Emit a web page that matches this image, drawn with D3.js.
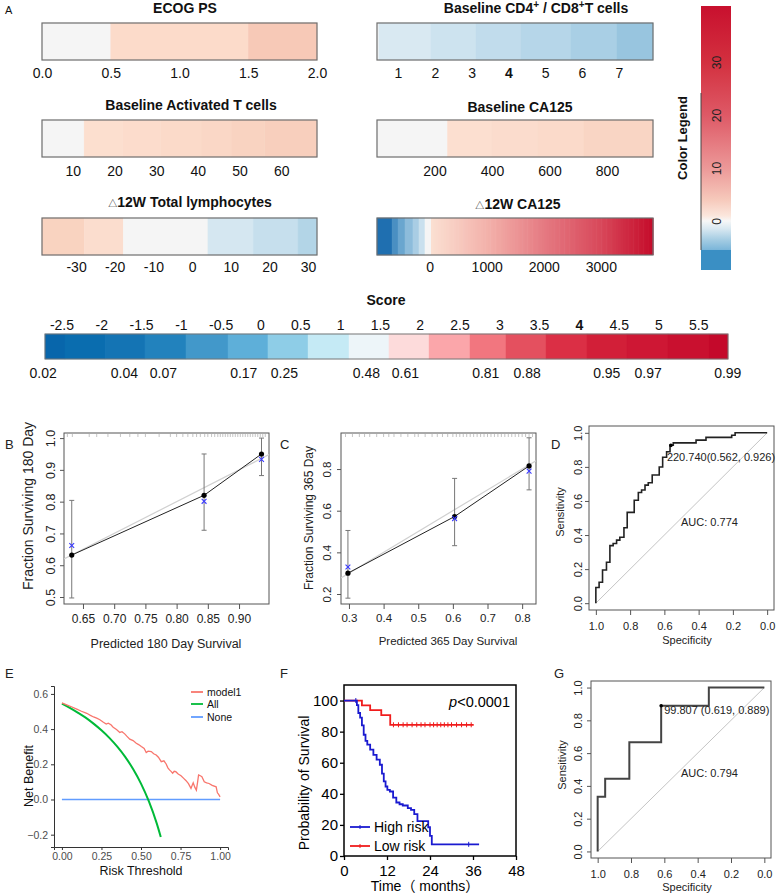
<!DOCTYPE html>
<html><head><meta charset="utf-8">
<script src="https://cdn.jsdelivr.net/npm/d3@7"></script>
<style>body{margin:0;background:#fff}</style>
</head><body><svg id="c" width="777" height="895"></svg>
<script>
// ================= DATA =================
// Panel A heat bars
const ecogTicks=[0,0.5,1,1.5,2];
const ecogBreaks=[0,0.5,1.5,2];
const ecogColors=["#f5f5f5","#fcdbca","#f7c9b7"];
const actTicks=[10,20,30,40,50,60];
const actBreaks=[2.6,12.7,22,31,41,48,56,68.6];
const actColors=["#f5f5f5","#fcdfcf","#fcdccc","#fbdac9","#fad7c6","#f9d3c1","#f8cfbd"];
const lymTicks=[-30,-20,-10,0,10,20,30];
const lymBreaks=[-38.8,-27.9,-17.8,4.1,15.8,27.4,32.3];
const lymColors=["#f9d3c0","#fbddce","#f5f5f5","#d5e7f1","#c6dfed","#b3d5e7"];
const cd4Ticks=[1,2,3,4,5,6,7];
const cd4Breaks=[0.43,0.48,1.89,3.12,4.34,5.69,6.94,7.93];
const cd4Colors=["#f7f7f7","#d9e9f2","#cde3ef","#c1dcec","#b6d6e9","#a9cfe5","#98c5df"];
const caTicks=[200,400,600,800];
const caBreaks=[0,245,400,560,720,960];
const caColors=["#f5f5f5","#fcdfd0","#fbdccd","#fbdaca","#f9d5c4"];
const dcaTicks=[0,1000,2000,3000];
const dcaBlueBreaks=[-921,-658,-553,-431,-291,-186,-81,25];
const dcaBlueColors=["#1f6fb0","#4a8fc2","#6aa6cf","#8dbcdb","#a9cde4","#c9e0ee","#f5f5f5"];
const dcaRedStops=[25,1000,2000,3000,3913];
const dcaRedColors=["#fbe0d2","#f3b2ab","#e57a82","#d8485a","#c50b2a"];
const legendTicks=[0,10,20,30];
const legendStops=[40.6,30,20,10,4,1,0,-1.5,-3.5,-5.5];
const legendColors=["#c8102e","#d3303f","#de5966","#ec9898","#f6c9bb","#fbe6dc","#f7f7f7","#d8e8f1","#a6cde3","#7ab5d9"];
// Score bar
const scoreTicks=[-2.5,-2,-1.5,-1,-0.5,0,0.5,1,1.5,2,2.5,3,3.5,4,4.5,5,5.5];
const scoreBreaks=[-2.707,-2.456,-1.953,-1.451,-0.936,-0.408,0.094,0.597,1.112,1.614,2.117,2.632,3.084,3.587,4.102,4.604,5.119,5.634,5.873];
const scoreColors=["#0866ab","#0a6daf","#1474b4","#2282bd","#4298ca","#5eafd9","#8ecde7","#c5eaf5","#edf5f9","#fddbdb","#fba6aa","#f2767f","#e4505f","#db2f45","#d21f38","#ce1734","#c9102f","#c4092b"];
const probLabels=["0.02","0.04","0.07","0.17","0.25","0.48","0.61","0.81","0.88","0.95","0.97","0.99"];
const probPos=[-2.73,-1.71,-1.22,-0.21,0.30,1.33,1.82,2.83,3.35,4.35,4.87,5.87];
// Panel B calibration 180 day
const predB=[0.632,0.844,0.936];
const obsB=[0.632,0.820,0.950];
const kmB=[0.662,0.801,0.933];
const loB=[0.497,0.710,0.882];
const hiB=[0.804,0.950,1.0];
const rugB=[0.625,0.633,0.66,0.672,0.69,0.71,0.725,0.738,0.75,0.772,0.79,0.8,0.81,0.818,0.826,0.832,0.838,0.845,0.85,0.856,0.861,0.866,0.87,0.874,0.878,0.882,0.886,0.89,0.894,0.898,0.902,0.906,0.91,0.914,0.918,0.922,0.926,0.93,0.934,0.938,0.942];
const xTicksB=[0.65,0.70,0.75,0.80,0.85,0.90];
const yTicksB=[0.5,0.6,0.7,0.8,0.9,1.0];
// Panel C calibration 365 day
const predC=[0.297,0.605,0.82];
const obsC=[0.30,0.572,0.815];
const kmC=[0.33,0.562,0.79];
const loC=[0.18,0.432,0.70];
const hiC=[0.505,0.755,0.95];
const rugC=[0.29,0.31,0.33,0.345,0.36,0.38,0.40,0.415,0.43,0.45,0.47,0.49,0.5,0.52,0.54,0.555,0.57,0.585,0.6,0.61,0.62,0.63,0.64,0.65,0.66,0.67,0.68,0.69,0.7,0.71,0.72,0.73,0.74,0.75,0.76,0.77,0.78,0.79,0.8,0.81,0.82,0.83];
const xTicksC=[0.3,0.4,0.5,0.6,0.7,0.8];
const yTicksC=[0.2,0.4,0.6,0.8];
// Panel D ROC
const dSpec=[1,1,0.981,0.961,0.938,0.918,0.899,0.879,0.86,0.836,0.817,0.776,0.752,0.733,0.713,0.694,0.671,0.63,0.61,0.587,0.567,0.548,0.415,0.357,0.207,0.187,0];
const dSens=[0,0.092,0.123,0.195,0.24,0.338,0.35,0.37,0.387,0.443,0.533,0.604,0.65,0.664,0.693,0.707,0.752,0.799,0.857,0.889,0.928,0.941,0.957,0.973,0.986,1,1];
const dCut=[0.562,0.926];
const dCutLabel="220.740(0.562, 0.926)";
const dAuc="AUC: 0.774";
// Panel G ROC
const gSpec=[1,1,0.955,0.81,0.619,0.333,0];
const gSens=[0,0.333,0.444,0.667,0.889,1,1];
const gCut=[0.619,0.889];
const gCutLabel="99.807 (0.619, 0.889)";
const gAuc="AUC: 0.794";
const rocTicks=[0,0.2,0.4,0.6,0.8,1.0];
// Panel E decision curve
const eT=[0,0.03,0.06,0.094,0.12,0.157,0.18,0.2,0.22,0.24,0.26,0.28,0.293,0.31,0.324,0.345,0.366,0.38,0.397,0.41,0.429,0.45,0.47,0.485,0.502,0.52,0.533,0.545,0.565,0.58,0.596,0.61,0.628,0.645,0.659,0.67,0.68,0.69,0.7,0.71,0.72,0.735,0.753,0.77,0.785,0.8,0.816,0.823,0.83,0.84,0.85,0.858,0.864,0.875,0.885,0.9,0.915,0.93,0.95,0.975,0.983,0.99,1.0];
const eModel=[0.549,0.538,0.527,0.514,0.503,0.49,0.478,0.469,0.462,0.453,0.44,0.429,0.434,0.425,0.411,0.398,0.381,0.385,0.373,0.36,0.343,0.335,0.32,0.312,0.301,0.29,0.267,0.275,0.272,0.26,0.253,0.24,0.215,0.22,0.202,0.18,0.168,0.16,0.149,0.16,0.158,0.145,0.135,0.12,0.107,0.09,0.063,0.08,0.095,0.07,0.053,0.1,0.139,0.135,0.13,0.101,0.095,0.091,0.08,0.072,0.038,0.03,0.015];
const eAllT=[0,0.05,0.1,0.15,0.2,0.25,0.3,0.35,0.4,0.45,0.5,0.55,0.6,0.625];
const eAll=[0.545,0.521,0.494,0.465,0.431,0.393,0.35,0.30,0.242,0.173,0.09,-0.011,-0.137,-0.213];
const eNoneT=[0,1];
const eNone=[0,0];
const eSeries=["model1","All","None"];
// Panel F Kaplan-Meier
const highT=[0,3.6,4.0,4.5,5.0,5.5,6.0,6.5,7.3,8.2,9.1,10.0,10.6,11.1,11.6,12.1,12.8,13.7,14.6,15.5,16.4,17.8,18.7,19.6,20.5,23.5,24.0,24.5,37.7];
const highS=[100,97,92,89,84,78,74,71.6,68.4,65,62,58.7,53,48,44.7,42.5,41.5,37.6,34.4,33.3,32.5,30.8,29.7,27,22.4,18.5,13,7.5,7.5];
const lowT=[0,5.0,7.3,10.4,12.9,36.2];
const lowS=[100,96.9,93.8,90.6,84.4,84.4];
const lowCensor=[13.8,15.2,16.5,17.6,19.0,20.3,21.5,22.6,24.0,25.0,26.0,27.0,28.0,29.0,30.0,31.4,32.8,34.2,35.5];
const highCensor=[3.3,34.8];
const kmGroups=["High risk","Low risk"];
const kmXTicks=[0,12,24,36,48];
const kmYTicks=[0,20,40,60,80,100];

// ================= DRAW =================
const FONT="'Liberation Sans', Arial, 'Noto Sans CJK SC', sans-serif";
const svg=d3.select("#c");
svg.append("rect").attr("width",777).attr("height",895).attr("fill","#fff");

function txt(x,y,s,fs,opt){
  opt=opt||{};
  const t=svg.append("text").attr("x",x).attr("y",y).attr("font-family",FONT).attr("font-size",fs)
    .attr("text-anchor",opt.anchor||"start").attr("fill",opt.fill||"#111").text(s);
  if(opt.bold) t.attr("font-weight","bold");
  if(opt.rot) t.attr("transform",`rotate(${opt.rot},${x},${y})`);
  return t;
}
function styleAxis(a,fs,col){
  a.attr("font-size",fs).attr("font-family",FONT);
  a.selectAll("text").attr("fill",col||"#111");
}

// ---- Panel A heat bars ----
function heatBar(o){
  const x=d3.scaleLinear().domain(o.domain).range([o.x0,o.x1]);
  const g=svg.append("g");
  g.selectAll("rect.s").data(o.colors).join("rect").attr("class","s")
   .attr("x",(c,i)=>x(o.breaks[i])).attr("width",(c,i)=>x(o.breaks[i+1])-x(o.breaks[i]))
   .attr("y",o.y0).attr("height",o.y1-o.y0).attr("fill",c=>c).attr("stroke",c=>c).attr("stroke-width",0.4);
  if(o.extra) o.extra(g,x);
  g.append("rect").attr("x",o.x0).attr("y",o.y0).attr("width",o.x1-o.x0).attr("height",o.y1-o.y0)
   .attr("fill","none").attr("stroke","#6e6e6e").attr("stroke-width",1.2);
  const a=g.append("g").attr("transform",`translate(0,${o.y1})`)
   .call(d3.axisBottom(x).tickValues(o.ticks).tickSize(0).tickPadding(o.pad).tickFormat(o.fmt||(d=>String(d))));
  a.select(".domain").remove();
  styleAxis(a,14,"#111");
  if(o.boldTick!==undefined) a.selectAll(".tick text").filter(d=>d===o.boldTick).attr("font-weight","bold");
  // title
  const t=svg.append("text").attr("x",o.tx).attr("y",o.ty).attr("text-anchor","middle")
   .attr("font-family",FONT).attr("font-size",14).attr("font-weight","bold").attr("fill","#111");
  o.title(t);
  return x;
}
txt(5,14,"A",11);
heatBar({x0:42,x1:317,y0:23,y1:60,domain:[0,2],breaks:ecogBreaks,colors:ecogColors,ticks:ecogTicks,pad:8,fmt:d3.format(".1f"),
  tx:185,ty:13,title:t=>t.text("ECOG PS")});
heatBar({x0:42,x1:317,y0:120,y1:157,domain:[2.6,68.6],breaks:actBreaks,colors:actColors,ticks:actTicks,pad:9,
  tx:191,ty:110,title:t=>t.text("Baseline Activated T cells")});
heatBar({x0:42,x1:317,y0:218,y1:255,domain:[-38.8,32.3],breaks:lymBreaks,colors:lymColors,ticks:lymTicks,pad:7,
  tx:190,ty:207,title:t=>{t.append("tspan").attr("font-size",9).attr("font-weight","normal").text("△");t.append("tspan").text("12W  Total lymphocytes");}});
heatBar({x0:377,x1:653,y0:23,y1:60,domain:[0.43,7.93],breaks:cd4Breaks,colors:cd4Colors,ticks:cd4Ticks,pad:8,boldTick:4,
  tx:536,ty:13,title:t=>{t.append("tspan").text("Baseline CD4");t.append("tspan").attr("dy",-5).attr("font-size",10).text("+");
    t.append("tspan").attr("dy",5).text(" /  CD8");t.append("tspan").attr("dy",-5).attr("font-size",10).text("+");t.append("tspan").attr("dy",5).text("T cells");}});
heatBar({x0:377,x1:653,y0:120,y1:157,domain:[0,960],breaks:caBreaks,colors:caColors,ticks:caTicks,pad:9,
  tx:520,ty:112,title:t=>t.text("Baseline CA125")});
heatBar({x0:377,x1:653,y0:218,y1:255,domain:[-921,3913],breaks:dcaBlueBreaks,colors:dcaBlueColors,ticks:dcaTicks,pad:7,
  tx:518,ty:209,title:t=>{t.append("tspan").attr("font-size",9).attr("font-weight","normal").text("△");t.append("tspan").text("12W CA125");},
  extra:(g,x)=>{
    const cs=d3.scaleLinear().domain(dcaRedStops).range(dcaRedColors);
    const n=90, lo=dcaRedStops[0], hi=dcaRedStops[dcaRedStops.length-1];
    const vals=d3.range(n).map(i=>lo+(hi-lo)*i/n);
    const w=(hi-lo)/n;
    g.selectAll("rect.r").data(vals).join("rect").attr("class","r")
     .attr("x",d=>x(d)).attr("width",d=>x(d+w)-x(d)+0.6).attr("y",218).attr("height",37).attr("fill",d=>cs(d+w/2));
  }});

// Color legend
{
  const ly=d3.scaleLinear().domain([-5.5,40.6]).range([250,6]);
  const defs=svg.append("defs");
  const gr=defs.append("linearGradient").attr("id","lg").attr("gradientUnits","userSpaceOnUse")
    .attr("x1",0).attr("x2",0).attr("y1",ly(40.6)).attr("y2",ly(-5.5));
  gr.selectAll("stop").data(legendStops).join("stop")
    .attr("offset",d=>(ly(d)-ly(40.6))/(ly(-5.5)-ly(40.6))).attr("stop-color",(d,i)=>legendColors[i]);
  svg.append("rect").attr("x",701).attr("y",ly(40.6)).attr("width",30).attr("height",ly(-5.5)-ly(40.6)).attr("fill","url(#lg)");
  svg.append("rect").attr("x",701).attr("y",ly(-5.5)).attr("width",30).attr("height",20).attr("fill","#3a8fc4");
  svg.append("line").attr("x1",701).attr("x2",701).attr("y1",93).attr("y2",250).attr("stroke","#444").attr("stroke-width",1);
  const a=svg.append("g").attr("transform","translate(731,0)")
    .call(d3.axisRight(ly).tickValues(legendTicks).tickSize(0).tickPadding(0));
  a.select(".domain").remove();
  styleAxis(a,12,"#222");
  a.selectAll(".tick text").attr("x",0).attr("y",-10).attr("dy",0).attr("text-anchor","middle").attr("transform","rotate(-90)");
  txt(687,138,"Color Legend",13,{bold:true,anchor:"middle",rot:-90});
}

// ---- Score bar ----
{
  const sx=d3.scaleLinear().domain([-2.707,5.873]).range([45,728]);
  const g=svg.append("g");
  g.selectAll("rect").data(scoreColors).join("rect")
   .attr("x",(c,i)=>sx(scoreBreaks[i])).attr("width",(c,i)=>sx(scoreBreaks[i+1])-sx(scoreBreaks[i]))
   .attr("y",334).attr("height",25).attr("fill",c=>c).attr("stroke",c=>c).attr("stroke-width",0.4);
  g.append("rect").attr("x",45).attr("y",334).attr("width",683).attr("height",25).attr("fill","none").attr("stroke","#777").attr("stroke-width",1);
  const top=svg.append("g").attr("transform","translate(0,334)")
   .call(d3.axisTop(sx).tickValues(scoreTicks).tickSize(0).tickPadding(4).tickFormat(d=>String(d)));
  top.select(".domain").remove();
  styleAxis(top,14,"#111");
  top.selectAll(".tick text").filter(d=>d===4).attr("font-weight","bold");
  svg.append("g").selectAll("text").data(probLabels).join("text")
   .attr("x",(d,i)=>sx(probPos[i])).attr("y",378).attr("text-anchor","middle")
   .attr("font-family",FONT).attr("font-size",14).attr("fill","#111").text(d=>d);
  txt(386,305,"Score",14,{bold:true,anchor:"middle"});
}

// ---- R style panel helper ----
function rPanel(o){
  const x=d3.scaleLinear().domain(o.xd).range([o.l,o.r]);
  const y=d3.scaleLinear().domain(o.yd).range([o.b,o.t]);
  const g=svg.append("g");
  const xa=g.append("g").attr("transform",`translate(0,${o.b})`)
    .call(d3.axisBottom(x).tickValues(o.xt).tickFormat(o.xf).tickSize(5).tickPadding(o.xpad));
  const ya=g.append("g").attr("transform",`translate(${o.l},0)`)
    .call(d3.axisLeft(y).tickValues(o.yt).tickFormat(o.yf).tickSize(4));
  [xa,ya].forEach(a=>{a.select(".domain").remove();a.selectAll("line").attr("stroke","#555");});
  styleAxis(xa,o.xfs,"#222");
  styleAxis(ya,o.yfs,"#222");
  ya.selectAll(".tick text").attr("x",0).attr("y",-o.ypad).attr("dy",0).attr("text-anchor","middle").attr("transform","rotate(-90)");
  g.append("rect").attr("x",o.l).attr("y",o.t).attr("width",o.r-o.l).attr("height",o.b-o.t)
    .attr("fill","none").attr("stroke","#555").attr("stroke-width",1);
  txt(o.xtx,o.xty,o.xtitle,o.xtfs,{anchor:"middle",fill:"#222"});
  txt(o.ytx,o.yty,o.ytitle,o.ytfs,{anchor:"middle",fill:"#222",rot:-90});
  txt(o.lx,o.lyy,o.label,13,{fill:"#222"});
  return {x,y,g};
}

// ---- Calibration panels ----
function calib(p,pred,obs,km,lo,hi,rug){
  const {x,y,g}=p;
  const d=x.domain();
  // clip
  const id="clip"+Math.round(x.range()[0]);
  svg.append("clipPath").attr("id",id).append("rect").attr("x",x.range()[0]).attr("y",y.range()[1]).attr("width",x.range()[1]-x.range()[0]).attr("height",y.range()[0]-y.range()[1]);
  const cg=g.append("g").attr("clip-path",`url(#${id})`);
  cg.append("line").attr("x1",x(d[0])).attr("y1",y(d[0])).attr("x2",x(d[1])).attr("y2",y(d[1])).attr("stroke","#d0d0d0").attr("stroke-width",1.2);
  cg.selectAll("line.rug").data(rug).join("line").attr("class","rug")
    .attr("x1",v=>x(v)).attr("x2",v=>x(v)).attr("y1",y.range()[1]).attr("y2",y.range()[1]+4).attr("stroke","#aaa").attr("stroke-width",0.7);
  const idx=d3.range(pred.length);
  cg.append("path").attr("d",d3.line().x(i=>x(pred[i])).y(i=>y(obs[i]))(idx)).attr("fill","none").attr("stroke","#222").attr("stroke-width",1);
  idx.forEach(i=>{
    cg.append("line").attr("x1",x(pred[i])).attr("x2",x(pred[i])).attr("y1",y(lo[i])).attr("y2",y(hi[i])).attr("stroke","#777").attr("stroke-width",1);
    [lo[i],hi[i]].forEach(v=>cg.append("line").attr("x1",x(pred[i])-2.5).attr("x2",x(pred[i])+2.5).attr("y1",y(v)).attr("y2",y(v)).attr("stroke","#777"));
  });
  cg.selectAll("circle").data(idx).join("circle").attr("cx",i=>x(pred[i])).attr("cy",i=>y(obs[i])).attr("r",2.6).attr("fill","#000");
  idx.forEach(i=>{
    const cx=x(pred[i]),cy=y(km[i]),s=2.4;
    cg.append("path").attr("d",`M${cx-s},${cy-s}L${cx+s},${cy+s}M${cx-s},${cy+s}L${cx+s},${cy-s}`).attr("stroke","#3a3aff").attr("stroke-width",1.1);
  });
}
const pB=rPanel({l:64,r:269,t:433,b:604,xd:[0.6196,0.948],yd:[0.478,1.016],xt:xTicksB,yt:yTicksB,
  xf:d3.format(".2f"),yf:d3.format(".1f"),xpad:5,ypad:9,xfs:12,yfs:12.5,
  xtitle:"Predicted  180 Day Survival",xtx:166,xty:648,xtfs:12.5,
  ytitle:"Fraction Surviving 180 Day",ytx:33,yty:506,ytfs:14,label:"B",lx:5,lyy:449});
calib(pB,predB,obsB,kmB,loB,hiB,rugB);
const pC=rPanel({l:341,r:536,t:433,b:604,xd:[0.277,0.84],yd:[0.152,0.973],xt:xTicksC,yt:yTicksC,
  xf:d3.format(".1f"),yf:d3.format(".1f"),xpad:5,ypad:10,xfs:11.5,yfs:11.5,
  xtitle:"Predicted  365 Day Survival",xtx:448,xty:645,xtfs:11.5,
  ytitle:"Fraction Surviving 365 Day",ytx:313,yty:518,ytfs:12,label:"C",lx:280,lyy:449});
calib(pC,predC,obsC,kmC,loC,hiC,rugC);

// ---- ROC panels ----
function roc(p,spec,sens,cut,cutLabel,auc,lab,aucPos,lw,col){
  const {x,y,g}=p;
  g.append("line").attr("x1",x(1)).attr("y1",y(0)).attr("x2",x(0)).attr("y2",y(1)).attr("stroke","#c4c4c4").attr("stroke-width",1);
  const idx=d3.range(spec.length);
  g.append("path").attr("d",d3.line().curve(d3.curveStepAfter).x(i=>x(spec[i])).y(i=>y(sens[i]))(idx))
    .attr("fill","none").attr("stroke",col).attr("stroke-width",lw);
  g.append("circle").attr("cx",x(cut[0])).attr("cy",y(cut[1])).attr("r",1.8).attr("fill","#000");
  txt(x(cut[0])+lab[0],y(cut[1])+lab[1],cutLabel,11,{fill:"#222"});
  txt(aucPos[0],aucPos[1],auc,11,{fill:"#222"});
}
const pD=rPanel({l:589,r:774,t:426,b:610,xd:[1.04,-0.04],yd:[-0.04,1.04],xt:rocTicks,yt:rocTicks,
  xf:d3.format(".1f"),yf:d3.format(".1f"),xpad:7,ypad:7,xfs:11,yfs:11,
  xtitle:"Specificity",xtx:687,xty:644,xtfs:11,ytitle:"Sensitivity",ytx:564,yty:512,ytfs:11,label:"D",lx:551,lyy:449});
roc(pD,dSpec,dSens,dCut,dCutLabel,dAuc,[-4,16],[681,526],1.6,"#222");
const pG=rPanel({l:591,r:771,t:681,b:858,xd:[1.04,-0.04],yd:[-0.04,1.04],xt:rocTicks,yt:rocTicks,
  xf:d3.format(".1f"),yf:d3.format(".1f"),xpad:7.5,ypad:9,xfs:11,yfs:11,
  xtitle:"Specificity",xtx:687,xty:891,xtfs:11,ytitle:"Sensitivity",ytx:566,yty:765,ytfs:11,label:"G",lx:554,lyy:678});
roc(pG,gSpec,gSens,gCut,gCutLabel,gAuc,[3,8],[681,777],2,"#444");

// ---- Panel E decision curve ----
{
  const ex=d3.scaleLinear().domain([-0.05,1.05]).range([54,228]);
  const ey=d3.scaleLinear().domain([-0.27,0.645]).range([847,686]);
  const g=svg.append("g");
  const ax=g.append("g").attr("transform","translate(0,847)")
    .call(d3.axisBottom(ex).tickValues([0,0.25,0.5,0.75,1]).tickFormat(d3.format(".2f")).tickSize(3).tickPadding(3));
  const ay=g.append("g").attr("transform","translate(54,0)")
    .call(d3.axisLeft(ey).tickValues([-0.2,0,0.2,0.4,0.6]).tickFormat(d3.format(".1f")).tickSize(3).tickPadding(3));
  [ax,ay].forEach(a=>{styleAxis(a,10.5,"#4d4d4d");a.selectAll("line,path").attr("stroke","#333");});
  const cols=["#F8766D","#00BA38","#619CFF"];
  const line=(xs,ys)=>d3.line().x(i=>ex(xs[i])).y(i=>ey(ys[i]))(d3.range(xs.length));
  g.append("path").attr("d",line(eNoneT,eNone)).attr("fill","none").attr("stroke",cols[2]).attr("stroke-width",1.6);
  g.append("path").attr("d",d3.line().curve(d3.curveMonotoneX).x(i=>ex(eAllT[i])).y(i=>ey(eAll[i]))(d3.range(eAllT.length)))
    .attr("fill","none").attr("stroke",cols[1]).attr("stroke-width",2);
  g.append("path").attr("d",line(eT,eModel)).attr("fill","none").attr("stroke",cols[0]).attr("stroke-width",1.3);
  const lgY=[692,704,717];
  eSeries.forEach((s,i)=>{
    g.append("line").attr("x1",191).attr("x2",203).attr("y1",lgY[i]).attr("y2",lgY[i]).attr("stroke",cols[i]).attr("stroke-width",1.8);
    txt(207,lgY[i]+4,s,10.5,{fill:"#111"});
  });
  txt(141,875,"Risk Threshold",12.5,{anchor:"middle"});
  txt(33,776,"Net Benefit",12.5,{anchor:"middle",rot:-90});
  txt(5,678,"E",13,{fill:"#222"});
}

// ---- Panel F Kaplan-Meier ----
{
  const fx=d3.scaleLinear().domain([0,48]).range([344,516]);
  const fy=d3.scaleLinear().domain([0,110]).range([856,685]);
  const g=svg.append("g");
  const ax=g.append("g").attr("transform","translate(0,856)")
    .call(d3.axisBottom(fx).tickValues(kmXTicks).tickSize(4).tickPadding(5));
  const ay=g.append("g").attr("transform","translate(344,0)")
    .call(d3.axisLeft(fy).tickValues(kmYTicks).tickSize(4).tickPadding(2));
  [ax,ay].forEach(a=>{a.select(".domain").remove();styleAxis(a,15,"#000");a.selectAll("line").attr("stroke","#000").attr("stroke-width",1.3);});
  g.append("rect").attr("x",344).attr("y",685).attr("width",172).attr("height",171).attr("fill","none").attr("stroke","#000").attr("stroke-width",1.5);
  const blue="#1a1ad0", red="#f01c1c";
  const step=(ts,ss)=>d3.line().curve(d3.curveStepAfter).x(i=>fx(ts[i])).y(i=>fy(ss[i]))(d3.range(ts.length));
  g.append("path").attr("d",step(lowT,lowS)).attr("fill","none").attr("stroke",red).attr("stroke-width",1.8);
  g.append("path").attr("d",step(highT,highS)).attr("fill","none").attr("stroke",blue).attr("stroke-width",1.8);
  const survAt=(ts,ss,t)=>ss[d3.bisectRight(ts,t)-1];
  g.selectAll("line.cl").data(lowCensor).join("line").attr("class","cl")
    .attr("x1",t=>fx(t)).attr("x2",t=>fx(t)).attr("y1",t=>fy(survAt(lowT,lowS,t))-2.5).attr("y2",t=>fy(survAt(lowT,lowS,t))+2.5).attr("stroke",red).attr("stroke-width",1);
  g.selectAll("line.ch").data(highCensor).join("line").attr("class","ch")
    .attr("x1",t=>fx(t)).attr("x2",t=>fx(t)).attr("y1",t=>fy(survAt(highT,highS,t))-2.5).attr("y2",t=>fy(survAt(highT,highS,t))+2.5).attr("stroke",blue).attr("stroke-width",1);
  const lg=[[827,blue],[846,red]];
  kmGroups.forEach((s,i)=>{
    const yy=lg[i][0];
    g.append("line").attr("x1",350).attr("x2",370).attr("y1",yy).attr("y2",yy).attr("stroke",lg[i][1]).attr("stroke-width",1.8);
    g.append("line").attr("x1",360).attr("x2",360).attr("y1",yy-2).attr("y2",yy+2).attr("stroke",lg[i][1]).attr("stroke-width",1);
    txt(374,yy+5,s,14,{fill:"#000"});
  });
  const pt=svg.append("text").attr("x",510).attr("y",707).attr("text-anchor","end").attr("font-family",FONT).attr("font-size",14.5).attr("fill","#000");
  pt.append("tspan").attr("font-style","italic").text("p");
  pt.append("tspan").text("<0.0001");
  txt(425,891,"Time（ months）",14,{anchor:"middle",fill:"#000"});
  txt(309,783,"Probability of Survival",14,{anchor:"middle",fill:"#000",rot:-90});
  txt(280,678,"F",13,{fill:"#222"});
}
</script></body></html>
